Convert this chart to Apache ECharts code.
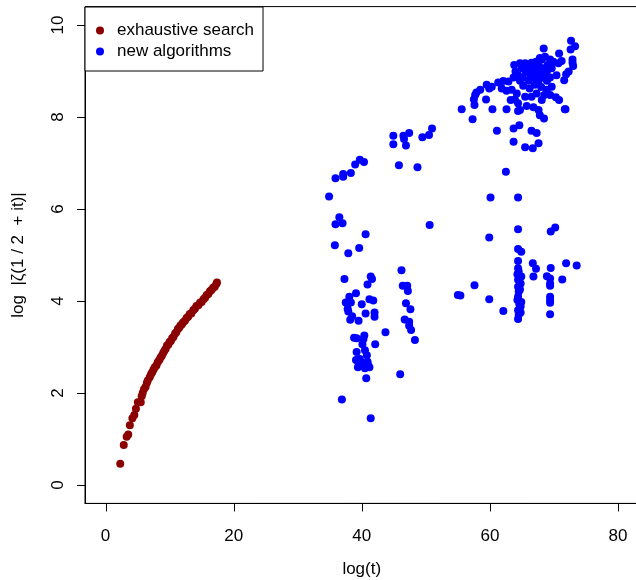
<!DOCTYPE html>
<html>
<head>
<meta charset="utf-8">
<script src="https://cdn.jsdelivr.net/npm/echarts@6/dist/echarts.min.js"></script>
<style>
  html, body { margin: 0; padding: 0; background: #fff; }
  #chart { width: 636px; height: 580px; }
</style>
</head>
<body>
<div id="chart"></div>
<script>
// log(t) vs log|zeta(1/2+it)| : exhaustive search vs new algorithms

const xTicks = [0, 20, 40, 60, 80];
const yTicks = [0, 2, 4, 6, 8, 10];
const seriesNames = ['exhaustive search', 'new algorithms'];

// exhaustive search results: [log t, log|zeta|]
const exhaustive = [
  [2.3, 0.46], [2.85, 0.87], [3.3, 1.05], [3.55, 1.1], [3.8, 1.3], [4.2, 1.45],
  [4.5, 1.52], [4.75, 1.66], [5.05, 1.8], [5.5, 1.8], [5.65, 1.93], [5.8, 2.0],
  [6.0, 2.08], [6.25, 2.13], [6.45, 2.22], [6.6, 2.27], [6.9, 2.34], [7.1, 2.41],
  [7.3, 2.45], [7.5, 2.51], [7.7, 2.56], [7.95, 2.6], [8.15, 2.67], [8.4, 2.72],
  [8.6, 2.77], [8.8, 2.81], [9.0, 2.87], [9.2, 2.92], [9.4, 2.96], [9.6, 3.03],
  [9.8, 3.05], [10.0, 3.11], [10.2, 3.13], [10.4, 3.19], [10.6, 3.22], [10.85, 3.29],
  [11.05, 3.32], [11.3, 3.39], [11.5, 3.42], [11.7, 3.47], [11.9, 3.49], [12.1, 3.53],
  [12.4, 3.57], [12.65, 3.63], [12.9, 3.66], [13.15, 3.72], [13.4, 3.73], [13.7, 3.8],
  [13.95, 3.83], [14.2, 3.89], [14.5, 3.91], [14.75, 3.96], [15.0, 3.98], [15.3, 4.04],
  [15.55, 4.07], [15.8, 4.13], [16.05, 4.15], [16.3, 4.21], [16.55, 4.24], [16.8, 4.29],
  [17.05, 4.31], [17.3, 4.37], [17.4, 4.4]
];

// new algorithms, log t around 35-51
const newNear40 = [
  [44.93, 7.59], [44.93, 7.41], [46.5, 7.59], [46.6, 7.52], [47.4, 7.65], [46.9, 7.38],
  [49.46, 7.56], [50.5, 7.61], [50.97, 7.75], [45.8, 6.95], [48.7, 6.91],
  [39.7, 7.07], [40.35, 7.02], [38.97, 6.97], [37.1, 6.76], [37.1, 6.7], [38.3, 6.78],
  [35.9, 6.67], [34.9, 6.27], [36.5, 5.82], [35.9, 5.67], [37.0, 5.69], [40.6, 5.45],
  [50.6, 5.65], [35.8, 5.21], [37.9, 5.04], [39.6, 5.15], [37.3, 4.48], [41.4, 4.53],
  [41.6, 4.48], [46.2, 4.67], [40.9, 4.36], [46.4, 4.33], [47.1, 4.33], [47.2, 4.22],
  [39.1, 4.17], [38.06, 4.09], [37.5, 3.97], [38.3, 3.97], [37.8, 3.83], [37.9, 3.77],
  [40.0, 3.93], [41.2, 4.04], [41.8, 4.01], [40.6, 3.73], [42.0, 3.75], [42.0, 3.66],
  [46.9, 3.95], [47.6, 3.82], [38.5, 3.67], [38.2, 3.59], [39.5, 3.57], [46.7, 3.6],
  [47.4, 3.55], [47.4, 3.46], [47.7, 3.37], [48.3, 3.15], [43.7, 3.32], [42.1, 3.06],
  [38.8, 3.2], [39.2, 3.19], [40.4, 3.25], [40.25, 3.17], [40.1, 3.06], [39.2, 2.89],
  [40.5, 2.93], [40.8, 2.82], [39.1, 2.72], [39.5, 2.65], [39.4, 2.56], [39.7, 2.74],
  [40.4, 2.65], [40.9, 2.68], [41.2, 2.56], [40.5, 2.54], [41.0, 2.61], [40.7, 2.32],
  [46.0, 2.41], [36.9, 1.86], [41.4, 1.45]
];

// new algorithms, log t around 55-74, lower band
const newLowBand = [
  [55.0, 4.13], [55.4, 4.12], [57.6, 4.34], [59.9, 4.04], [62.1, 3.78],
  [62.5, 6.81], [60.1, 6.25], [64.4, 6.25], [59.9, 5.38], [64.4, 5.56], [69.5, 5.51],
  [70.2, 5.6], [64.4, 5.13], [64.9, 5.07], [64.4, 4.87], [66.7, 4.82], [67.2, 4.7],
  [71.9, 4.82], [73.55, 4.77], [69.5, 4.72], [64.4, 4.71], [64.5, 4.64], [64.9, 4.53],
  [64.4, 4.46], [64.8, 4.38], [64.4, 4.31], [64.5, 4.2], [64.4, 4.09], [64.9, 3.98],
  [64.8, 3.88], [64.4, 3.8], [64.5, 3.7], [64.4, 3.61], [64.3, 4.58], [64.7, 4.25],
  [64.6, 3.93], [64.3, 4.02], [64.8, 3.75], [66.8, 4.53], [68.9, 4.54], [69.4, 4.49],
  [69.4, 4.38], [69.4, 4.33], [71.3, 4.47], [69.4, 4.09], [69.4, 4.02], [69.4, 3.96],
  [69.4, 3.71]
];

// new algorithms, log t around 55-74, upper cluster
const newUpper = [
  [55.6, 8.17], [57.3, 7.95], [60.4, 8.17], [62.6, 8.17], [64.4, 8.13], [71.8, 8.17],
  [57.7, 8.48], [57.5, 8.38], [57.6, 8.26], [57.9, 8.53], [58.5, 8.59], [59.5, 8.7],
  [59.9, 8.62], [60.3, 8.66], [61.3, 8.75], [62.1, 8.78], [62.9, 8.77], [59.4, 8.38],
  [61.85, 8.62], [62.6, 8.57], [63.4, 8.59],
  [61.1, 7.7], [63.7, 7.75], [64.6, 7.82], [66.5, 7.7], [67.3, 7.65], [63.7, 7.46],
  [67.6, 7.43], [65.5, 7.34], [66.7, 7.32],
  [72.67, 9.66], [73.3, 9.54], [72.6, 9.47], [68.4, 9.49], [70.8, 9.38], [72.9, 9.25],
  [72.9, 9.18], [73.0, 9.11], [72.3, 8.99], [71.9, 8.93], [71.6, 8.8], [70.4, 8.91],
  [71.7, 8.17], [71.2, 9.22], [70.7, 9.17], [69.65, 9.18], [68.6, 9.31], [67.8, 9.28],
  [63.8, 9.13], [64.7, 9.17], [65.5, 9.17], [66.5, 9.18], [67.2, 9.2], [68.1, 9.25],
  [69.4, 9.25], [69.9, 9.2], [65.8, 9.13], [67.6, 9.13], [69.0, 9.13], [65.0, 9.06],
  [66.5, 9.06], [67.3, 9.06], [68.3, 9.06], [69.65, 9.06], [64.0, 8.99], [65.6, 8.99],
  [67.0, 8.99], [67.8, 8.99], [68.9, 8.99], [64.4, 8.91], [66.3, 8.91], [67.4, 8.91],
  [68.6, 8.91], [63.7, 8.86], [65.1, 8.86], [66.8, 8.86], [68.1, 8.86], [69.4, 8.86],
  [64.7, 8.79], [66.0, 8.79], [67.6, 8.79], [68.9, 8.79], [64.2, 8.51], [63.9, 8.38],
  [64.4, 8.3], [65.5, 8.44], [66.5, 8.44], [67.3, 8.51], [68.1, 8.37], [68.5, 8.48],
  [68.9, 8.59], [69.4, 8.48], [69.65, 8.66], [70.3, 8.43], [70.8, 8.37], [65.75, 8.24],
  [66.8, 8.21], [67.6, 8.15], [67.8, 8.04], [68.45, 7.97], [64.7, 8.15], [63.25, 8.37],
  [65.2, 8.68], [66.2, 8.62], [67.0, 8.7], [68.0, 8.65]
];

const newAlgorithms = newNear40.concat(newLowBand, newUpper);

const X_MIN = -3.2, X_MAX = 83.2, Y_MIN = -0.4, Y_MAX = 10.4;
const TICK_LEN = 8;

const FONT = '"Liberation Sans", Arial, Helvetica, sans-serif';
const chart = echarts.init(document.getElementById('chart'), null, { renderer: 'canvas' });

const lineStyle = { color: '#000', width: 1 };

chart.setOption({
  animation: false,
  backgroundColor: '#ffffff',
  textStyle: { fontFamily: FONT },
  grid: {
    left: 85, top: 6.6, width: 553.5, height: 496.8,
    containLabel: false, outerBoundsMode: 'none',
    show: true, borderColor: '#000', borderWidth: 1, backgroundColor: 'transparent'
  },
  legend: {
    left: 85, top: 7, orient: 'vertical',
    padding: [15, 9, 11, 11],
    itemGap: 4, itemWidth: 24, itemHeight: 8,
    borderColor: '#000', borderWidth: 1, backgroundColor: '#fff',
    icon: 'circle',
    textStyle: { fontFamily: FONT, fontSize: 17, color: '#000' },
    data: seriesNames
  },
  xAxis: {
    type: 'value', min: X_MIN, max: X_MAX,
    name: 'log(t)', nameLocation: 'middle', nameGap: 57,
    nameTextStyle: { fontFamily: FONT, fontSize: 17, color: '#000' },
    axisLine: { show: true, onZero: false, lineStyle: lineStyle },
    splitLine: { show: false },
    axisTick: { show: false },
    axisLabel: { show: true, customValues: xTicks, margin: 24, fontFamily: FONT, fontSize: 17, color: '#000' }
  },
  yAxis: {
    type: 'value', min: Y_MIN, max: Y_MAX,
    name: 'log  |ζ(1 / 2  + it)|', nameLocation: 'middle', nameGap: 58,
    nameTextStyle: { fontFamily: FONT, fontSize: 17, color: '#000' },
    axisLine: { show: true, onZero: false, lineStyle: lineStyle },
    splitLine: { show: false },
    axisTick: { show: false },
    axisLabel: { show: true, customValues: yTicks, rotate: 90, margin: 18, fontFamily: FONT, fontSize: 17, color: '#000' }
  },
  series: [
    {
      name: seriesNames[0], type: 'scatter', data: exhaustive,
      symbol: 'circle', symbolSize: 8,
      itemStyle: { color: '#8B0000', opacity: 1 }
    },
    {
      name: seriesNames[1], type: 'scatter', data: newAlgorithms,
      symbol: 'circle', symbolSize: 8,
      itemStyle: { color: '#0000FF', opacity: 1 }
    }
  ]
});

// outward tick marks, positioned through the chart's own axis scales
const tickMarks = [];
xTicks.forEach(function (v) {
  const p = chart.convertToPixel({ gridIndex: 0 }, [v, Y_MIN]);
  const x = Math.round(p[0]) + 0.5;
  tickMarks.push({
    type: 'line', silent: true, z: 100,
    shape: { x1: x, y1: p[1], x2: x, y2: p[1] + TICK_LEN },
    style: { stroke: '#000', lineWidth: 1 }
  });
});
yTicks.forEach(function (v) {
  const p = chart.convertToPixel({ gridIndex: 0 }, [X_MIN, v]);
  const y = Math.round(p[1]) + 0.5;
  tickMarks.push({
    type: 'line', silent: true, z: 100,
    shape: { x1: p[0], y1: y, x2: p[0] - TICK_LEN, y2: y },
    style: { stroke: '#000', lineWidth: 1 }
  });
});
chart.setOption({ graphic: tickMarks });
</script>
</body>
</html>
